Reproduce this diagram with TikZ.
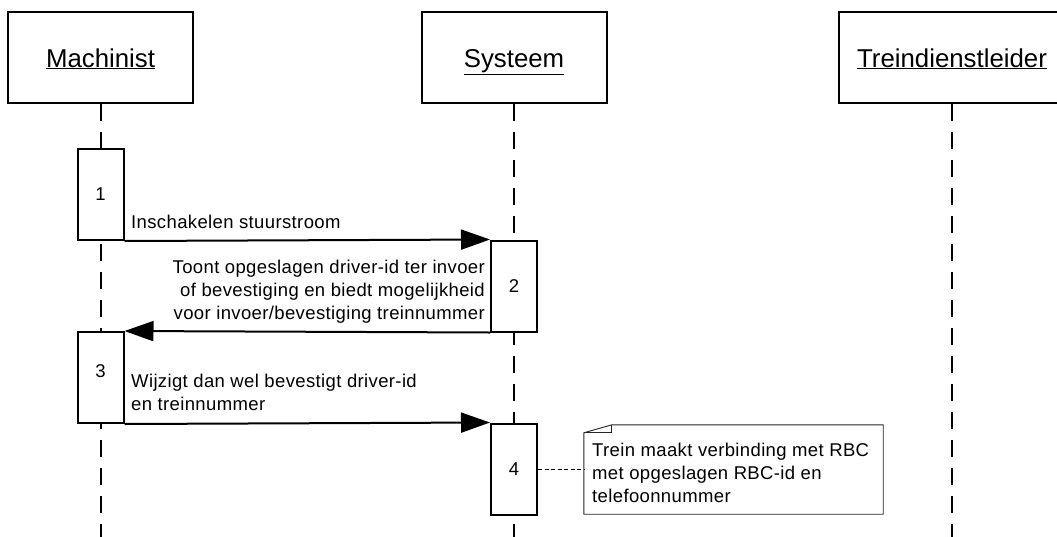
\documentclass[tikz,border=0pt]{standalone}
\usepackage{fontspec}
\setmainfont{Liberation Sans}
\newfontfamily\msgfont[LetterSpace=2]{Liberation Sans}
\usetikzlibrary{arrows.meta}

\tikzset{
  actor/.style={draw, line width=2pt, fill=white, minimum height=91pt, inner sep=0pt,
    text depth=0pt, text height=19pt, font=\fontsize{25.8}{30}\selectfont},
  lifeline/.style={line width=2pt, dash pattern=on 17pt off 11pt},
  actbox/.style={draw, line width=2pt, fill=white, minimum width=46pt, minimum height=91pt,
    inner sep=0pt, font=\msgfont\fontsize{18.5}{23}\selectfont},
  msg/.style={line width=2pt, -{Triangle[length=29pt,width=20pt]}},
  msgtext/.style={inner sep=0pt, font=\msgfont\fontsize{18.5}{23}\selectfont},
  notetext/.style={inner sep=0pt, align=left, font=\msgfont\fontsize{18.5}{23}\selectfont},
  noteline/.style={line width=0.9pt, draw=black!85},
}

\begin{document}
\begin{tikzpicture}[x=1pt, y=-1pt]
\useasboundingbox (0,0) rectangle (1057,536);
\path[clip] (0,0) rectangle (1057,536);

% participants
\node[actor, minimum width=185pt] (mach) at (100.5,57.5) {\underline{Machinist}};
\node[actor, minimum width=185pt] (sys)  at (514,57.5)   {\underline{Systeem}};
\node[actor, minimum width=226pt] (td)   at (952,57.5)   {\underline{Treindienstleider}};

% lifelines
\coordinate (machEnd) at (100.5,540);
\coordinate (sysEnd)  at (514,540);
\coordinate (tdEnd)   at (952,540);
\draw[lifeline] (mach.south) -- (machEnd);
\draw[lifeline] (sys.south)  -- (sysEnd);
\draw[lifeline] (td.south)   -- (tdEnd);

% activations
\node[actbox] (a1) at (100.5,194.5) {1};
\node[actbox] (a2) at (514,286)     {2};
\node[actbox, text depth=12pt] (a3) at (100.5,377.5) {3};
\node[actbox] (a4) at (514,469)     {4};

% messages
\draw[msg] (a1.south east) -- (a2.north west);
\draw[msg] (a2.south west) -- (a3.north east);
\draw[msg] (a3.south east) -- (a4.north west);

% multi-line labels are anchored at the baseline of their last line
\node[msgtext, anchor=base west] (m1) at (131,228) {Inschakelen stuurstroom};
\node[msgtext, align=right, anchor=base east] (m2) at (485,319)
  {Toont opgeslagen driver-id ter invoer\\of bevestiging en biedt mogelijkheid\\voor invoer/bevestiging treinnummer};
\node[msgtext, align=left, anchor=base west] (m3) at (131,410)
  {Wijzigt dan wel bevestigt driver-id\\en treinnummer};

% note attached to activation 4
\node[minimum width=299pt, minimum height=89pt, inner sep=0pt] (note) at (733.5,469.5) {};
\draw[noteline, fill=white]
  ([yshift=-8pt]note.north west) -- ([xshift=28pt]note.north west) -- (note.north east)
  -- (note.south east) -- (note.south west) -- cycle;
\draw[noteline] ([xshift=28pt]note.north west) -- ([xshift=28pt,yshift=-8pt]note.north west)
  -- ([yshift=-8pt]note.north west);
\node[notetext, anchor=base west] (nt) at (592,502)
  {Trein maakt verbinding met RBC\\met opgeslagen RBC-id en\\telefoonnummer};
\draw[line width=0.9pt, dash pattern=on 4pt off 2.5pt] (a4.east) -- (note.west |- a4.east);
\end{tikzpicture}
\end{document}
